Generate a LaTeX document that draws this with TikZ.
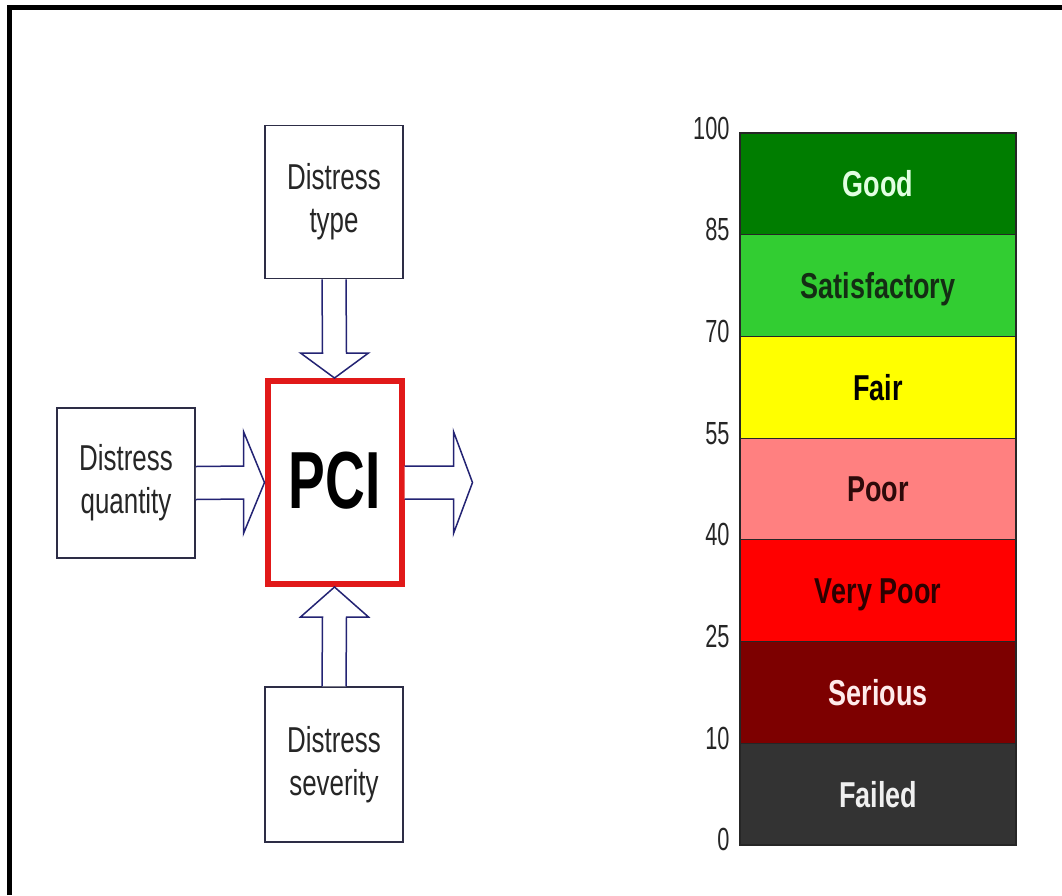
\documentclass[tikz,border=0pt]{standalone}
\usepackage{fontspec}
\setmainfont{Liberation Sans}
\newfontfamily\narrowfont[FakeStretch=0.68]{Liberation Sans}
\newfontfamily\boxfont[FakeStretch=0.72]{Liberation Sans}
\newfontfamily\bandfont[FakeStretch=0.75]{Liberation Sans}
\usetikzlibrary{calc,positioning}
\definecolor{boxline}{RGB}{45,45,70}
\definecolor{arrline}{RGB}{35,35,115}
\definecolor{pcired}{RGB}{225,25,25}
\definecolor{good}{RGB}{0,125,0}
\definecolor{satis}{RGB}{50,205,50}
\definecolor{fair}{RGB}{255,255,0}
\definecolor{poor}{RGB}{255,128,128}
\definecolor{vpoor}{RGB}{255,0,0}
\definecolor{serious}{RGB}{125,0,0}
\definecolor{failed}{RGB}{51,51,51}
\tikzset{
  inbox/.style={draw=boxline,line width=1.5pt,minimum width=138pt,inner sep=0pt,align=center,
    text=black!85,font=\boxfont\fontsize{36}{43}\selectfont},
  pcibox/.style={draw=pcired,line width=6pt,minimum width=134pt,minimum height=203pt,inner sep=0pt,
    font=\narrowfont\bfseries\fontsize{81}{81}\selectfont,text height=58pt,text depth=7pt},
  blockarrow/.style={draw=arrline,line width=1.5pt,fill=white,line join=miter},
  band/.style={draw=black!85,line width=1.2pt,minimum width=276pt,minimum height=101.7pt,inner sep=0pt,
    outer sep=0pt,font=\bandfont\bfseries\fontsize{36}{36}\selectfont,text height=26pt,text depth=0pt},
  tick/.style={font=\narrowfont\fontsize{32}{32}\selectfont,anchor=base east,text=black!85}
}
\begin{document}
\begin{tikzpicture}[x=1pt,y=-1pt]
\useasboundingbox (0,0) rectangle (1062,895);
\draw[line width=5pt] (9.5,895) -- (9.5,7.5) -- (1062,7.5);
\node[inbox,minimum height=153pt] (type) at (334,202) {Distress\\type};
\node[inbox,minimum height=150pt] (qty) at (126,483) {Distress\\quantity};
\node[inbox,minimum height=155pt] (sev) at (334,764.5) {Distress\\severity};
\node[pcibox] (pci) at (334.5,482.5) {PCI};
\coordinate (out) at ($(pci.east)+(68,0)$);
\draw[blockarrow] ($(type.south)+(-12,0)$) -- ($(pci.north)+(-12,-25)$) -- ($(pci.north)+(-34,-25)$) -- (pci.north)
  -- ($(pci.north)+(34,-25)$) -- ($(pci.north)+(12,-25)$) -- ($(type.south)+(12,0)$);
\draw[blockarrow] ($(sev.north)+(-12,0)$) -- ($(pci.south)+(-12,30)$) -- ($(pci.south)+(-34,30)$) -- (pci.south)
  -- ($(pci.south)+(34,30)$) -- ($(pci.south)+(12,30)$) -- ($(sev.north)+(12,0)$);
\draw[blockarrow] ($(qty.east)+(0,-16.5)$) -- ($(pci.west)+(-21,-16.5)$) -- ($(pci.west)+(-21,-51)$) -- (pci.west)
  -- ($(pci.west)+(-21,51)$) -- ($(pci.west)+(-21,16.5)$) -- ($(qty.east)+(0,16.5)$);
\draw[blockarrow] ($(pci.east)+(0,-16.5)$) -- ($(out)+(-19,-16.5)$) -- ($(out)+(-19,-51)$) -- (out)
  -- ($(out)+(-19,51)$) -- ($(out)+(-19,16.5)$) -- ($(pci.east)+(0,16.5)$);
\node[band,fill=good,text={rgb,255:red,225;green,255;blue,225},anchor=north west] (gd) at (740,133) {Good};
\node[band,fill=satis,text={rgb,255:red,20;green,45;blue,20},below=0pt of gd] (sat) {Satisfactory};
\node[band,fill=fair,text=black,below=0pt of sat] (fr) {Fair};
\node[band,fill=poor,text={rgb,255:red,45;green,10;blue,10},below=0pt of fr] (pr) {Poor};
\node[band,fill=vpoor,text={rgb,255:red,45;green,0;blue,0},below=0pt of pr] (vpr) {Very Poor};
\node[band,fill=serious,text={rgb,255:red,255;green,235;blue,235},below=0pt of vpr] (ser) {Serious};
\node[band,fill=failed,text={rgb,255:red,240;green,240;blue,240},below=0pt of ser] (fld) {Failed};
\node[tick] (n100) at ($(gd.north west)+(-7,6)$) {100};
\node[tick] (n85) at ($(gd.south west)+(-7,6)$) {85};
\node[tick] (n70) at ($(sat.south west)+(-7,6)$) {70};
\node[tick] (n55) at ($(fr.south west)+(-7,6)$) {55};
\node[tick] (n40) at ($(pr.south west)+(-7,6)$) {40};
\node[tick] (n25) at ($(vpr.south west)+(-7,6)$) {25};
\node[tick] (n10) at ($(ser.south west)+(-7,6)$) {10};
\node[tick] (n0) at ($(fld.south west)+(-7,6)$) {0};
\end{tikzpicture}
\end{document}
